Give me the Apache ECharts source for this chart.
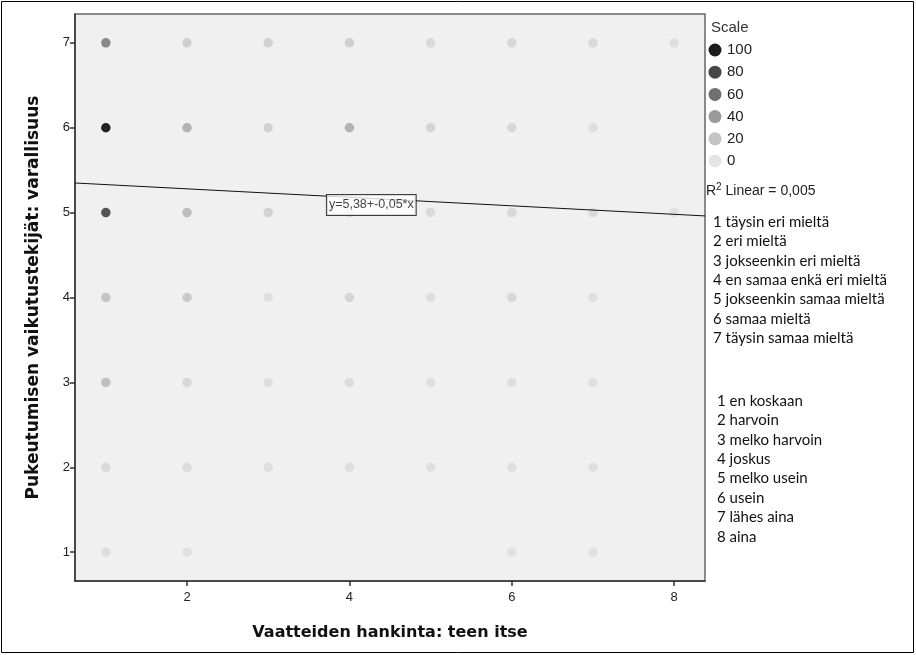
<!DOCTYPE html>
<html>
<head>
<meta charset="utf-8">
<script src="https://cdn.jsdelivr.net/npm/echarts@6/dist/echarts.min.js"></script>
<style>
  html, body { margin: 0; padding: 0; background: #ffffff; }
  #chart { width: 916px; height: 655px; }
</style>
</head>
<body>
<div id="chart"></div>
<script>
// Response levels on the horizontal axis (Vaatteiden hankinta: teen itse)
const xLevels = [1, 2, 3, 4, 5, 6, 7, 8];

// Counts of respondents for each x level, one array per y level (null = no answers)
const countsAtY7 = [48, 13, 11, 13, 7, 8, 7, 4];
const countsAtY6 = [97, 28, 11, 28, 10, 8, 4, null];
const countsAtY5 = [73, 23, 11, 10, 6, 8, 6, 2];
const countsAtY4 = [20, 16, 3, 10, 4, 8, 3, null];
const countsAtY3 = [22, 8, 4, 5, 3, 4, 3, null];
const countsAtY2 = [6, 5, 4, 4, 3, 3, 3, null];
const countsAtY1 = [4, 2, null, null, null, 2, 2, null];

// Tick values shown on the axes
const xTickValues = [2, 4, 6, 8];
const yTickValues = [1, 2, 3, 4, 5, 6, 7];

// Count scale legend (top to bottom) and its grey ramp (0 -> 100)
const scaleSteps = [100, 80, 60, 40, 20, 0];
const scaleRamp = ['#e4e4e4', '#c4c4c4', '#9a9a9a', '#707070', '#464646', '#1c1c1c'];

// Linear fit
const fitIntercept = 5.38;
const fitSlope = -0.05;
const fitR2 = 0.005;

// Value labels of the two scales
const agreementLabels = [
  '1 täysin eri mieltä', '2 eri mieltä', '3 jokseenkin eri mieltä',
  '4 en samaa enkä eri mieltä', '5 jokseenkin samaa mieltä',
  '6 samaa mieltä', '7 täysin samaa mieltä'
];
const frequencyLabels = [
  '1 en koskaan', '2 harvoin', '3 melko harvoin', '4 joskus',
  '5 melko usein', '6 usein', '7 lähes aina', '8 aina'
];

const X_MIN = 0.62, X_MAX = 8.38, Y_MIN = 0.66, Y_MAX = 7.34;

const rows = [
  [1, countsAtY1], [2, countsAtY2], [3, countsAtY3], [4, countsAtY4],
  [5, countsAtY5], [6, countsAtY6], [7, countsAtY7]
];
const points = [];
rows.forEach(([y, counts]) => {
  counts.forEach((c, i) => {
    if (c !== null) points.push([xLevels[i], y, c]);
  });
});

const fmt = v => String(v).replace('.', ',');
const fitLine = [
  [X_MIN, fitIntercept + fitSlope * X_MIN],
  [X_MAX, fitIntercept + fitSlope * X_MAX]
];
const eqText = 'y=' + fmt(fitIntercept) + '+' + fmt(fitSlope.toFixed(2)) + '*x';

const tickFont = { fontFamily: 'Liberation Sans, Arial, sans-serif', fontSize: 13, color: '#222' };
const legendFont = 'Liberation Sans, Arial, sans-serif';
const listFont = 'Lato, sans-serif';

// Legend graphics on the right side
const graphics = [
  { type: 'rect', shape: { x: 1.5, y: 1.5, width: 912, height: 651 },
    style: { fill: 'none', stroke: '#000', lineWidth: 1 }, silent: true },
  { type: 'text', left: 711, top: 20, style: { text: 'Scale', font: '15px ' + legendFont, fill: '#333' } }
];
scaleSteps.forEach((v, i) => {
  const cy = 50 + i * 22.2;
  const color = scaleRamp[Math.round(v / 20)];
  graphics.push({ type: 'circle', shape: { cx: 715, cy: cy, r: 6.5 }, style: { fill: color } });
  graphics.push({ type: 'text', x: 727, y: cy, style: { text: String(v), font: '15px ' + legendFont, fill: '#222', verticalAlign: 'middle' } });
});
graphics.push({
  type: 'text', x: 706, y: 190,
  style: {
    text: '{r|R}{s|2}{r| Linear = ' + fmt(fitR2) + '}',
    verticalAlign: 'middle',
    rich: {
      r: { font: '14px ' + legendFont, fill: '#222', verticalAlign: 'bottom' },
      s: { font: '10px ' + legendFont, fill: '#222', verticalAlign: 'top', padding: [0, 0, 6, 0] }
    }
  }
});
agreementLabels.forEach((t, i) => {
  graphics.push({ type: 'text', x: 713, y: 222 + i * 19.4, style: { text: t, font: '15px ' + listFont, fill: '#111', verticalAlign: 'middle' } });
});
frequencyLabels.forEach((t, i) => {
  graphics.push({ type: 'text', x: 717, y: 401 + i * 19.4, style: { text: t, font: '15px ' + listFont, fill: '#111', verticalAlign: 'middle' } });
});

const chart = echarts.init(document.getElementById('chart'), null, { renderer: 'canvas' });
chart.setOption({
  animation: false,
  backgroundColor: '#ffffff',
  grid: {
    left: 75, right: 211, top: 14, bottom: 74,
    show: true, backgroundColor: '#f0f0f0', borderColor: '#666', borderWidth: 1.5
  },
  xAxis: {
    type: 'value', min: X_MIN, max: X_MAX,
    name: 'Vaatteiden hankinta: teen itse',
    nameLocation: 'middle', nameGap: 44,
    nameTextStyle: { fontFamily: 'DejaVu Sans, sans-serif', fontWeight: 'bold', fontSize: 16, color: '#111' },
    axisLine: { show: true, onZero: false, lineStyle: { color: '#333', width: 1.5 } },
    axisTick: { show: true, length: 5, customValues: xTickValues, lineStyle: { color: '#333', width: 1.5 } },
    axisLabel: Object.assign({ customValues: xTickValues, margin: 10 }, tickFont),
    splitLine: { show: false }
  },
  yAxis: {
    type: 'value', min: Y_MIN, max: Y_MAX,
    name: 'Pukeutumisen vaikutustekijät: varallisuus',
    nameLocation: 'middle', nameGap: 33, nameRotate: 90,
    nameTextStyle: { fontFamily: 'DejaVu Sans, sans-serif', fontWeight: 'bold', fontSize: 17, color: '#111' },
    axisLine: { show: true, onZero: false, lineStyle: { color: '#333', width: 1.5 } },
    axisTick: { show: true, length: 5, customValues: yTickValues, lineStyle: { color: '#333', width: 1.5 } },
    axisLabel: Object.assign({ customValues: yTickValues, margin: 5 }, tickFont),
    splitLine: { show: false }
  },
  visualMap: {
    type: 'continuous', show: false, seriesIndex: 0, dimension: 2,
    min: 0, max: 100, inRange: { color: scaleRamp }
  },
  series: [
    {
      type: 'scatter', data: points, symbol: 'circle', symbolSize: 9.5,
      itemStyle: { opacity: 1 }, z: 2, silent: true
    },
    {
      type: 'line', data: fitLine, symbol: 'none', z: 3, silent: true,
      lineStyle: { color: '#111', width: 1 }
    },
    {
      type: 'scatter', data: [[4.27, 5.09]], symbolSize: 0, z: 4, silent: true,
      label: {
        show: true, position: 'inside', formatter: eqText,
        fontFamily: 'Liberation Sans, Arial, sans-serif', fontSize: 12.5, color: '#111',
        backgroundColor: '#ffffff', borderColor: '#111', borderWidth: 1,
        padding: [4, 2, 3, 2]
      }
    }
  ],
  graphic: graphics
});
</script>
</body>
</html>
